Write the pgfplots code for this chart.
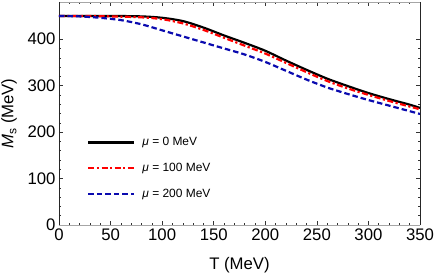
\documentclass[border=0pt]{standalone}
\usepackage{pgfplots}
\pgfplotsset{compat=1.18}
\usepackage{fontspec}
\setmainfont{Liberation Sans}
\definecolor{mblue}{RGB}{10,10,175}
\begin{document}
\begin{tikzpicture}
\begin{axis}[
  scale only axis,
  width=361bp, height=223bp,
  xmin=0, xmax=350, ymin=0, ymax=480,
  xtick={0,50,...,350}, ytick={0,100,...,400},
  minor x tick num=4, minor y tick num=4,
  tick align=inside,
  major tick length=4bp, minor tick length=2.2bp,
  tick style={black!80, line width=0.5pt},
  /pgf/number format/assume math mode=true,
  ticklabel style={font=\fontsize{16.8}{18}\selectfont},
  label style={font=\fontsize{16.8}{18}\selectfont},
  xlabel={T (MeV)},
  ylabel={{\itshape M}\raisebox{-0.35ex}{\fontsize{12}{13}\selectfont s} (MeV)},
  xlabel style={at={(axis description cs:0.5,0)}, anchor=center, yshift=-40bp},
  ylabel style={at={(axis description cs:0,0.5)}, anchor=center, yshift=50bp},
  separate axis lines,
  every outer x axis line/.append style={gray!70, line width=0.8pt},
  every outer y axis line/.append style={black!85, line width=0.8pt},
  legend cell align=left,
  legend style={draw=none, fill=none, at={(0.0776,0.402)}, anchor=north west,
    inner sep=0pt,
    font=\fontsize{12}{13}\selectfont, row sep=12bp,
    /tikz/every odd column/.append style={column sep=5bp}},
  legend image code/.code={\draw[#1] (0bp,0bp) -- (46bp,0bp);},
]
\addplot[black, line width=2.2pt, smooth] coordinates {
(0,450) (25,450) (50,450) (80,449) (100,446) (120,439) (140,425) (160,408) (180,392) (200,375) (220,354) (240,334) (260,315) (280,299) (300,284) (320,271) (340,259) (350,252)};
\addlegendentry{{\itshape μ} = 0 MeV}
\addplot[red, line width=2.2pt, smooth, dash pattern=on 6bp off 2.5bp on 2.2bp off 2.5bp] coordinates {
(0,450) (25,450) (50,449) (80,447) (100,443) (120,434) (140,420) (160,403) (180,386) (200,369) (220,349) (240,329) (260,310) (280,294) (300,280) (320,267) (340,255) (350,249)};
\addlegendentry{{\itshape μ} = 100 MeV}
\addplot[mblue, line width=2.2pt, smooth, dash pattern=on 5.5bp off 3bp] coordinates {
(0,450) (20,449) (40,446) (60,441) (80,432) (100,419) (120,406) (140,393) (160,380) (180,367) (200,351) (220,332) (240,313) (260,296) (280,282) (300,269) (320,257) (340,245) (350,239)};
\addlegendentry{{\itshape μ} = 200 MeV}
\end{axis}
\pgfresetboundingbox
\useasboundingbox ([xshift=-59bp,yshift=-50bp]current axis.south west) rectangle ([xshift=16bp,yshift=2bp]current axis.north east);
\end{tikzpicture}
\end{document}
